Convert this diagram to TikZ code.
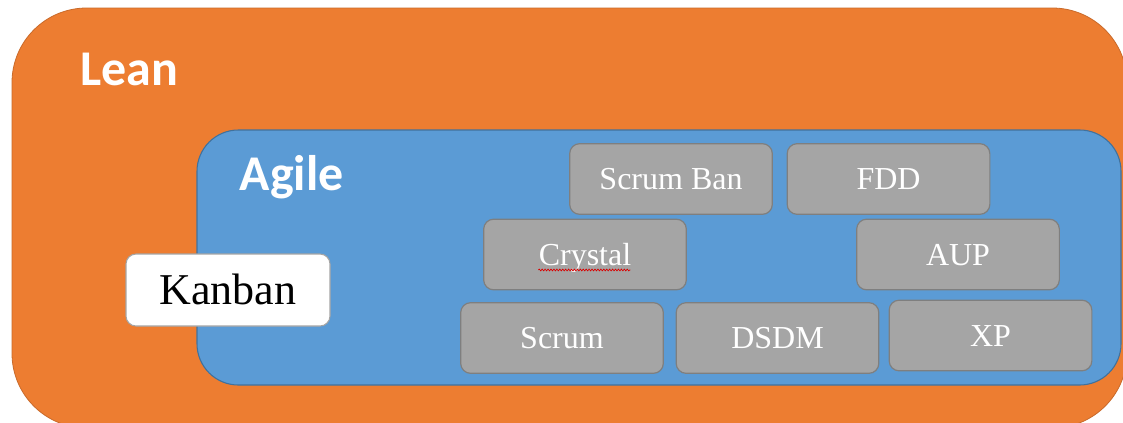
\documentclass[tikz,border=0pt]{standalone}
\usepackage{fontspec}
\setmainfont{Liberation Serif}
\newfontfamily\headfont{Carlito}
\usepackage{tikz}
\usetikzlibrary{positioning, decorations.pathmorphing}
\definecolor{leanorange}{HTML}{ED7D31}
\definecolor{agileblue}{HTML}{5B9BD5}
\definecolor{agileedge}{HTML}{41719C}
\definecolor{methodgray}{HTML}{A5A5A5}
\definecolor{methodedge}{HTML}{7F7F7F}

\tikzset{
  method/.style={draw=methodedge, fill=methodgray, rounded corners=7.5pt, line width=0.9pt,
    minimum width=152pt, minimum height=53pt, inner sep=0pt, text=white,
    text height=16pt, text depth=0pt, font=\fontsize{24}{28}\selectfont},
  kanbanbox/.style={draw=methodgray, fill=white, rounded corners=7.5pt, line width=0.8pt,
    minimum width=153pt, minimum height=54pt, inner sep=0pt,
    text height=22pt, text depth=0pt, font=\fontsize{33}{38}\selectfont},
  heading/.style={anchor=base west, inner sep=0pt, text=white,
    font=\headfont\bfseries\fontsize{37.5}{41}\selectfont},
  spellwave/.style={draw=red!85!black, line width=0.5pt, decorate,
    decoration={snake, amplitude=0.7pt, segment length=2.2pt}},
}

\begin{document}
\begin{tikzpicture}[x=0.75pt, y=-0.75pt]
  \useasboundingbox (0,0) rectangle (1123,422);
  \clip (0,0) rectangle (1123,422);
  \fill[white] (0,0) rectangle (1123,422);

  % Lean and Agile areas
  \draw[fill=leanorange, draw=leanorange!85!black, line width=0.6pt, rounded corners=56pt]
    (12,8) rectangle (1127,428);
  \draw[fill=agileblue, draw=agileedge, line width=0.8pt, rounded corners=31pt]
    (197,130) rectangle (1121,385);

  \node[heading] (lean) at (80,85) {Lean};
  \node[heading] (agile) at (239.5,190) {Agile};

  % Kanban sits across the Agile border
  \node[kanbanbox] (kanban) at (228,290) {Kanban};

  % Agile methods
  \foreach \name/\cx/\cy/\txt in {scrumban/671/179/Scrum Ban, fdd/888.5/179/FDD,
      crystal/585/254.5/Crystal, aup/958/254.5/AUP,
      scrum/562/338/Scrum, dsdm/777.5/338/DSDM, xp/990.5/335.5/XP}
    \node[method] (\name) at (\cx,\cy) {\txt};

  \draw[spellwave] ([xshift=-35pt,yshift=-11.6pt]crystal.center) -- ++(69pt,0);
\end{tikzpicture}
\end{document}
